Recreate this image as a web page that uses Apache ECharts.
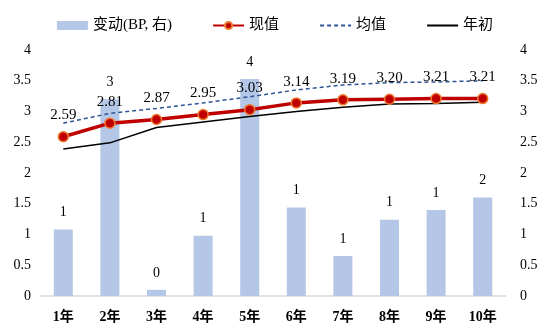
<!DOCTYPE html>
<html>
<head>
<meta charset="utf-8">
<script src="https://cdn.jsdelivr.net/npm/echarts@6/dist/echarts.min.js"></script>
<style>
  html, body { margin: 0; padding: 0; background: #fff; }
  #chart { width: 550px; height: 332px; }
</style>
</head>
<body>
<div id="chart"></div>
<script>
// Tenors on the x axis
const categories = ['1年', '2年', '3年', '4年', '5年', '6年', '7年', '8年', '9年', '10年'];
// Change in basis points (right axis)
const changeBP = [1.08, 3.20, 0.10, 0.98, 3.53, 1.44, 0.65, 1.24, 1.40, 1.60];
// Current yield
const current = [2.59, 2.81, 2.87, 2.95, 3.03, 3.14, 3.19, 3.20, 3.21, 3.21];
// Average yield
const average = [2.81, 2.97, 3.05, 3.14, 3.24, 3.35, 3.43, 3.47, 3.48, 3.50];
// Yield at the start of the year
const yearStart = [2.39, 2.49, 2.74, 2.83, 2.92, 3.00, 3.07, 3.12, 3.13, 3.15];
// Axis ticks
const axisMin = 0, axisMax = 4, axisStep = 0.5;

const FONT = '"Liberation Serif", "Noto Sans CJK SC", serif';
const chart = echarts.init(document.getElementById('chart'));

chart.setOption({
  animation: false,
  textStyle: { fontFamily: FONT, color: '#000' },
  legend: {
    top: 13,
    left: 'center',
    itemGap: 40,
    itemWidth: 31,
    itemHeight: 9,
    textStyle: { fontFamily: FONT, fontSize: 15, color: '#000' },
    data: [
      { name: '变动(BP, 右)', icon: 'rect' },
      { name: '现值' },
      { name: '均值', itemStyle: { opacity: 0 } },
      { name: '年初', itemStyle: { opacity: 0 } }
    ]
  },
  grid: { left: 40, right: 44, top: 50, bottom: 36 },
  xAxis: {
    type: 'category',
    data: categories,
    axisLine: { lineStyle: { color: '#d9d9d9', width: 1.5 } },
    axisTick: { show: false },
    axisLabel: { fontFamily: FONT, fontSize: 14, fontWeight: 'bold', color: '#000', margin: 14 }
  },
  yAxis: [
    {
      type: 'value', min: axisMin, max: axisMax, interval: axisStep,
      splitLine: { show: false },
      axisLine: { show: false }, axisTick: { show: false },
      axisLabel: { fontFamily: FONT, fontSize: 14, color: '#000', margin: 9 }
    },
    {
      type: 'value', min: axisMin, max: axisMax, interval: axisStep,
      splitLine: { show: false },
      axisLine: { show: false }, axisTick: { show: false },
      axisLabel: { fontFamily: FONT, fontSize: 14, color: '#000', margin: 14 }
    }
  ],
  series: [
    {
      name: '变动(BP, 右)',
      type: 'bar',
      yAxisIndex: 1,
      data: changeBP,
      barWidth: 19,
      itemStyle: { color: '#b4c7e7' },
      label: {
        show: true, position: 'top', distance: 10,
        fontFamily: FONT, fontSize: 14, color: '#000',
        formatter: p => p.value.toFixed(0)
      },
      z: 1
    },
    {
      name: '均值',
      type: 'line',
      data: average,
      symbol: 'none',
      lineStyle: { color: '#2f5597', width: 1.5, type: [4, 3] },
      itemStyle: { color: '#2f5597' },
      z: 3
    },
    {
      name: '年初',
      type: 'line',
      data: yearStart,
      symbol: 'none',
      lineStyle: { color: '#000', width: 1.5 },
      itemStyle: { color: '#000' },
      z: 3
    },
    {
      name: '现值',
      type: 'line',
      data: current,
      symbol: 'circle',
      symbolSize: 10,
      lineStyle: { color: '#c00000', width: 3.5 },
      itemStyle: { color: '#c00000', borderColor: '#ed7d31', borderWidth: 1.5 },
      label: {
        show: true, position: 'top', distance: 8,
        fontFamily: FONT, fontSize: 15, color: '#000',
        formatter: p => p.value.toFixed(2)
      },
      z: 4
    }
  ]
});
</script>
</body>
</html>
